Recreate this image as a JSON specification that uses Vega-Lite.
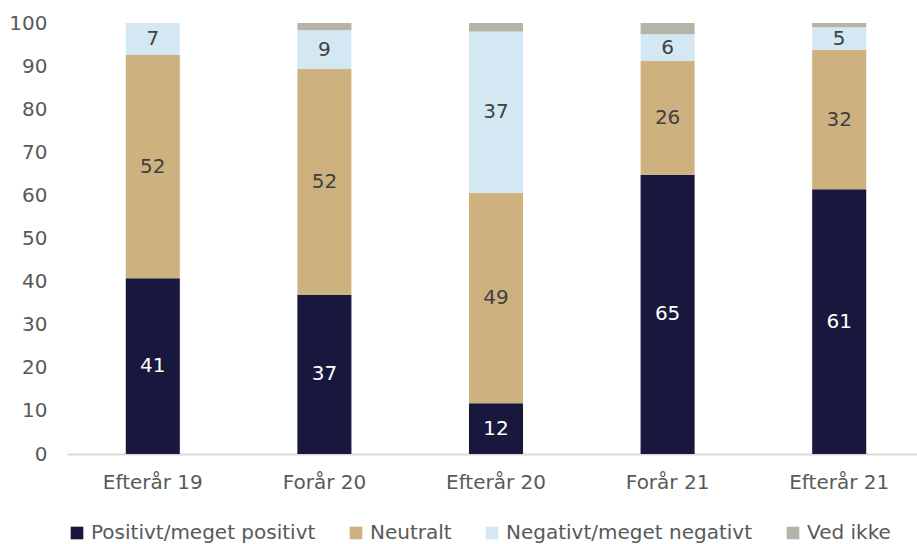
{
  "$schema": "https://vega.github.io/schema/vega-lite/v6.json",
  "width": 858,
  "height": 431,
  "autosize": "none",
  "padding": {"left": 67, "top": 23, "right": 0, "bottom": 90},
  "background": "white",
  "config": {"view": {"stroke": null}, "font": "DejaVu Sans"},
  "data": {"values": [
    {"period": "Efterår 19", "cat": "Positivt/meget positivt", "o": 1, "value": 40.8},
    {"period": "Efterår 19", "cat": "Neutralt", "o": 2, "value": 51.8},
    {"period": "Efterår 19", "cat": "Negativt/meget negativt", "o": 3, "value": 7.4},
    {"period": "Efterår 19", "cat": "Ved ikke", "o": 4, "value": 0},
    {"period": "Forår 20", "cat": "Positivt/meget positivt", "o": 1, "value": 36.9},
    {"period": "Forår 20", "cat": "Neutralt", "o": 2, "value": 52.4},
    {"period": "Forår 20", "cat": "Negativt/meget negativt", "o": 3, "value": 9.0},
    {"period": "Forår 20", "cat": "Ved ikke", "o": 4, "value": 1.7},
    {"period": "Efterår 20", "cat": "Positivt/meget positivt", "o": 1, "value": 11.8},
    {"period": "Efterår 20", "cat": "Neutralt", "o": 2, "value": 48.8},
    {"period": "Efterår 20", "cat": "Negativt/meget negativt", "o": 3, "value": 37.4},
    {"period": "Efterår 20", "cat": "Ved ikke", "o": 4, "value": 2.0},
    {"period": "Forår 21", "cat": "Positivt/meget positivt", "o": 1, "value": 64.8},
    {"period": "Forår 21", "cat": "Neutralt", "o": 2, "value": 26.4},
    {"period": "Forår 21", "cat": "Negativt/meget negativt", "o": 3, "value": 6.2},
    {"period": "Forår 21", "cat": "Ved ikke", "o": 4, "value": 2.6},
    {"period": "Efterår 21", "cat": "Positivt/meget positivt", "o": 1, "value": 61.4},
    {"period": "Efterår 21", "cat": "Neutralt", "o": 2, "value": 32.4},
    {"period": "Efterår 21", "cat": "Negativt/meget negativt", "o": 3, "value": 5.2},
    {"period": "Efterår 21", "cat": "Ved ikke", "o": 4, "value": 1.0}
  ]},
  "transform": [
    {"stack": "value", "groupby": ["period"], "sort": [{"field": "o", "order": "ascending"}], "as": ["v0", "v1"]},
    {"calculate": "(datum.v0 + datum.v1) / 2", "as": "mid"}
  ],
  "encoding": {
    "x": {
      "field": "period", "type": "nominal", "sort": null,
      "scale": {"paddingInner": 0.685, "paddingOuter": 0.3425},
      "axis": {"title": null, "labelAngle": 0, "labelFontSize": 20, "labelColor": "#595959", "labelPadding": 18, "ticks": false, "domainColor": "#d9d9d9", "domainWidth": 2}
    }
  },
  "layer": [
    {
      "mark": {"type": "bar"},
      "encoding": {
        "y": {"field": "v0", "type": "quantitative", "scale": {"domain": [0, 100], "nice": false},
          "axis": {"title": null, "values": [0,10,20,30,40,50,60,70,80,90,100], "grid": false, "domain": false, "ticks": false, "labelFontSize": 20, "labelColor": "#595959", "labelPadding": 20}},
        "y2": {"field": "v1"},
        "color": {
          "field": "cat", "type": "nominal",
          "scale": {"domain": ["Positivt/meget positivt", "Neutralt", "Negativt/meget negativt", "Ved ikke"],
                    "range": ["#18173e", "#cdb280", "#d3e8f3", "#b6b3a8"]},
          "legend": {"orient": "bottom", "direction": "horizontal", "title": null, "symbolType": "square", "symbolSize": 160, "symbolStrokeWidth": 0, "labelFontSize": 20, "labelColor": "#595959", "columnPadding": 30, "labelOffset": 4, "offset": 31, "labelLimit": 400}
        }
      }
    },
    {
      "transform": [{"filter": "datum.value >= 4"}],
      "mark": {"type": "text", "fontSize": 20, "baseline": "middle"},
      "encoding": {
        "y": {"field": "mid", "type": "quantitative"},
        "text": {"field": "value", "type": "quantitative", "format": ".0f"},
        "color": {
          "condition": {"test": "datum.o == 1", "value": "white"},
          "value": "#404040"
        }
      }
    }
  ]
}
